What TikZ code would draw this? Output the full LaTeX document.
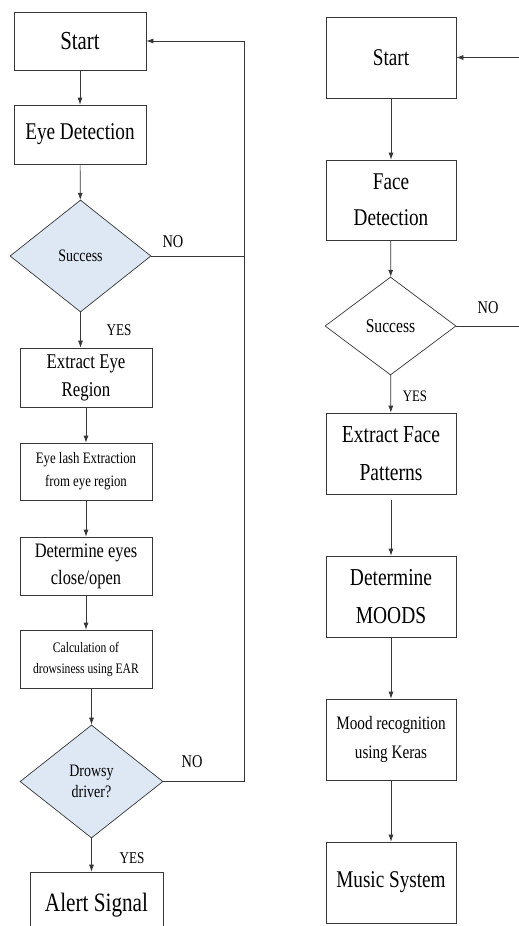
\documentclass[tikz,border=0pt]{standalone}
\usepackage{fontspec}
\setmainfont{Liberation Serif}[FakeStretch=0.8]
\usepackage{tikz}
\usetikzlibrary{arrows.meta}
\usetikzlibrary{shapes.geometric}
\definecolor{paleblue}{RGB}{222,232,245}
\definecolor{edge}{RGB}{55,55,55}

\tikzset{
    box/.style={draw=edge, line width=0.7pt, align=center, inner sep=1pt,
        minimum width=132pt, minimum height=58pt},
    bigbox/.style={box, minimum width=130pt, minimum height=81pt},
    decision/.style={diamond, draw=edge, line width=0.7pt, inner sep=0pt, align=center},
    arr/.style={-{Latex[length=7pt,width=5pt]}, edge, line width=0.7pt},
    line/.style={edge, line width=0.7pt},
    lbl/.style={font=\fontsize{18}{18}\selectfont, inner sep=0pt}
}

\begin{document}
\begin{tikzpicture}[x=1pt, y=-1pt]
    \useasboundingbox (0,0) rectangle (519,926);
    \clip (0,0) rectangle (519,926);

    % left flow: drowsiness
    \node[box, font=\fontsize{26}{30}\selectfont] (startL) at (80,41) {Start};
    \node[box, minimum height=59pt, font=\fontsize{24}{30}\selectfont] (eye) at (80,134.5) {Eye Detection};
    \node[decision, fill=paleblue, minimum width=141pt, minimum height=112pt,
        font=\fontsize{17.5}{21}\selectfont] (succL) at (80.5,256) {Success};
    \node[box, minimum height=59pt, font=\fontsize{21}{28}\selectfont] (extract) at (86,377.5) {Extract Eye\\Region};
    \node[box, minimum height=57pt, font=\fontsize{16}{23}\selectfont] (lash) at (86,471.5) {Eye lash Extraction\\from eye  region};
    \node[box, font=\fontsize{20.5}{27}\selectfont] (eyestate) at (86,566) {Determine  eyes\\close/open};
    \node[box, font=\fontsize{14.5}{21}\selectfont] (calc) at (86,659) {Calculation  of\\drowsiness using EAR};
    \node[decision, fill=paleblue, minimum width=143pt, minimum height=113pt,
        font=\fontsize{17.5}{21}\selectfont] (drowsy) at (91.5,781.5) {Drowsy\\driver?};
    \node[box, minimum width=133pt, minimum height=66pt, font=\fontsize{26.5}{30}\selectfont] (alert) at (96.5,905) {Alert Signal};

    \coordinate (loopL) at (244,781.5);

    \draw[arr] (startL) -- (eye);
    \draw[arr] (eye) -- (succL);
    \draw[arr] (succL.south) -- (succL.south |- extract.north);
    \draw[arr] (extract) -- (lash);
    \draw[arr] (lash) -- (eyestate);
    \draw[arr] (eyestate) -- (calc);
    \draw[arr] (drowsy.north |- calc.south) -- (drowsy.north);
    \draw[arr] (drowsy.south) -- (drowsy.south |- alert.north);
    \draw[line] (succL.east) -- (succL.east -| loopL);
    \draw[arr] (drowsy.east) -- (loopL) |- (startL.east);

    \node[lbl] (noL1) at (173,242) {NO};
    \node[lbl, font=\fontsize{16.5}{16.5}\selectfont] (yesL1) at (119,330) {YES};
    \node[lbl] (noL2) at (192,762) {NO};
    \node[lbl, font=\fontsize{16.5}{16.5}\selectfont] (yesL2) at (132,858) {YES};

    % right flow: mood based music
    \node[bigbox, font=\fontsize{24}{30}\selectfont] (startR) at (391,57.5) {Start};
    \node[bigbox, minimum height=80pt, font=\fontsize{24}{36}\selectfont] (face) at (391,200) {Face\\Detection};
    \node[decision, fill=white, minimum width=131pt, minimum height=98pt,
        font=\fontsize{19.5}{22}\selectfont] (succR) at (390.5,326) {Success};
    \node[bigbox, font=\fontsize{24.4}{38}\selectfont] (pattern) at (391,453.5) {Extract Face\\Patterns};
    \node[bigbox, font=\fontsize{24.3}{38}\selectfont] (moods) at (391,596.5) {Determine\\MOODS};
    \node[bigbox, font=\fontsize{19}{29}\selectfont] (keras) at (391,739.5) {Mood recognition\\using Keras};
    \node[bigbox, font=\fontsize{24}{30}\selectfont] (music) at (391,882.5) {Music System};

    \coordinate (loopR) at (522,326);

    \draw[arr] (startR) -- (face);
    \draw[arr] (face) -- (succR);
    \draw[arr] (succR) -- (pattern);
    \draw[arr, shorten <=6pt] (pattern) -- (moods);
    \draw[arr] (moods) -- (keras);
    \draw[arr] (keras) -- (music);
    \draw[arr] (succR.east) -- (loopR) |- (startR.east);

    \node[lbl] (noR) at (488,308) {NO};
    \node[lbl, font=\fontsize{16}{16}\selectfont] (yesR) at (415,396) {YES};
\end{tikzpicture}
\end{document}
